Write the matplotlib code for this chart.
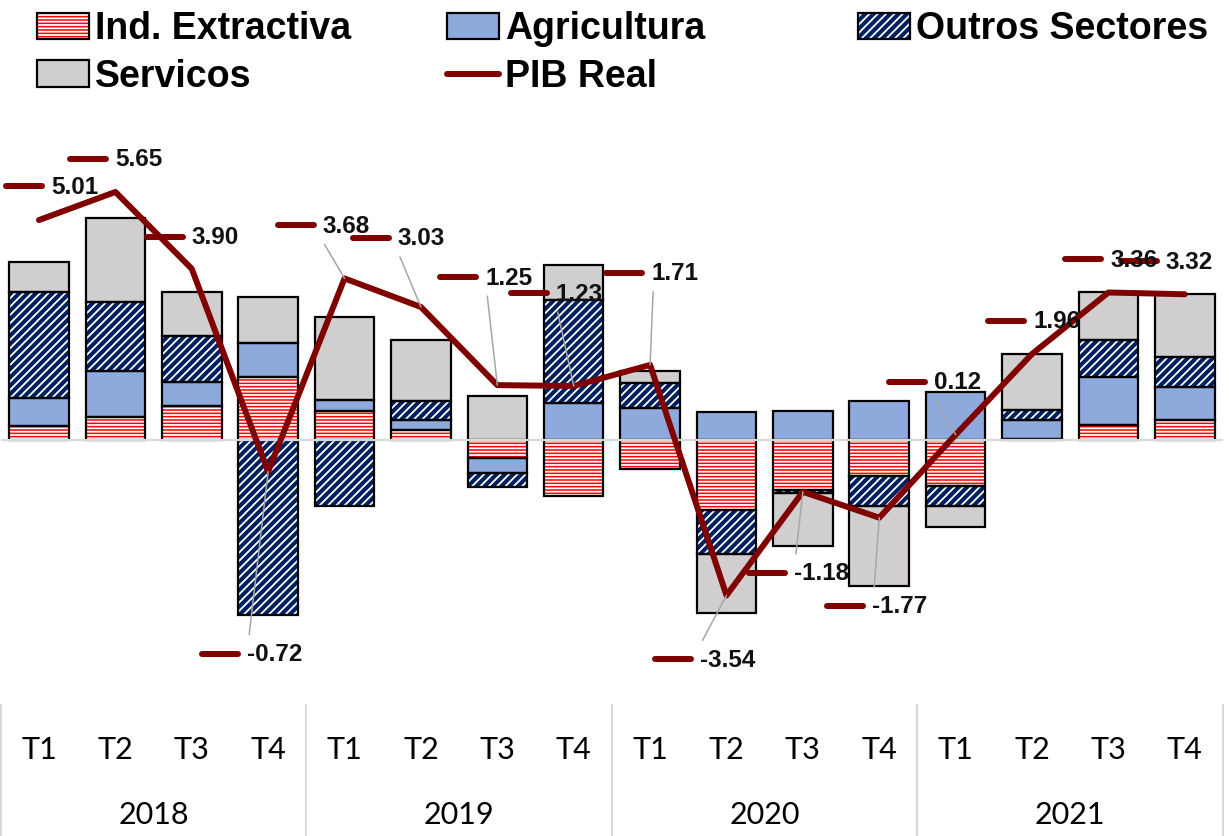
import matplotlib
matplotlib.use("Agg")
import numpy as np
import matplotlib.pyplot as plt
from matplotlib.patches import Patch
from matplotlib.lines import Line2D
from matplotlib.markers import MarkerStyle
from matplotlib.transforms import ScaledTranslation
from matplotlib.legend_handler import HandlerTuple

# ---- data ----
quarters = ["T1", "T2", "T3", "T4"] * 4
years = ["2018", "2019", "2020", "2021"]

ind_extractiva = [0.33, 0.52, 0.77, 1.44, 0.67, 0.23, -0.42, -1.27,
                  -0.67, -1.59, -1.13, -0.83, -1.05, 0.03, 0.34, 0.45]
agricultura = [0.62, 1.05, 0.55, 0.77, 0.23, 0.23, -0.34, 0.85,
               0.72, 0.63, 0.66, 0.89, 1.10, 0.42, 1.10, 0.76]
outros_sectores = [2.42, 1.58, 1.06, -3.98, -1.50, 0.43, -0.30, 2.33,
                   0.57, -1.00, -0.08, -0.67, -0.45, 0.23, 0.83, 0.67]
servicos = [0.68, 1.91, 1.00, 1.05, 1.91, 1.39, 1.01, 0.81,
            0.28, -1.35, -1.20, -1.83, -0.49, 1.29, 1.10, 1.44]
pib_real = [5.01, 5.65, 3.90, -0.72, 3.68, 3.03, 1.25, 1.23,
            1.71, -3.54, -1.18, -1.77, 0.12, 1.96, 3.36, 3.32]

# label placement (pixels, relative to the point) and leader lines
label_dx = [-34, -46, -46, -67, -68, -69, -58, -64, -45, -72, -55, -53, -68, -45, -44, -65]
label_dy = [34, 33, 32, -182, 53, 69, 108, 93, 92, -64, -81, -88, 53, 33, 33, 33]
has_leader = [False, False, False, True, True, True, True, True,
              True, True, True, True, True, False, False, False]

# ---- styles ----
RED = "#FF0000"
BLUE = "#8EA9DB"
NAVY = "#002060"
GREY = "#D0CECE"
PIB = "#800000"
LEADER = "#A6A6A6"
ZERO = "#D9D9D9"

plt.rcParams["hatch.linewidth"] = 1.3

W, H, DPI = 1229, 836, 100
fig = plt.figure(figsize=(W / DPI, H / DPI), dpi=DPI)

# plot area in pixels
ax_left, ax_right, ax_top, ax_bottom = 0.8, 1223.0, 110.0, 705.0
zero_px, px_per_unit = 440.0, 43.9
ax = fig.add_axes([ax_left / W, (H - ax_bottom) / H,
                   (ax_right - ax_left) / W, (ax_bottom - ax_top) / H])
ax.set_xlim(-0.5, len(quarters) - 0.5)
ax.set_ylim((zero_px - ax_bottom) / px_per_unit, (zero_px - ax_top) / px_per_unit)

x = np.arange(len(quarters))
series = [
    ("Ind. Extractiva", ind_extractiva, RED, "white", "-----"),
    ("Agricultura", agricultura, BLUE, None, None),
    ("Outros Sectores", outros_sectores, NAVY, "white", "////"),
    ("Servicos", servicos, GREY, None, None),
]

pos_base = np.zeros(len(x))
neg_base = np.zeros(len(x))
handles = {}
for name, vals, face, hcol, hatch in series:
    vals = np.array(vals)
    base = np.where(vals >= 0, pos_base, neg_base)
    # fill + hatch first (hatch colour comes from edgecolor), outline on top
    ax.bar(x, vals, 0.78, bottom=base, color=face, edgecolor=hcol if hcol else face,
           hatch=hatch, linewidth=0, zorder=2)
    ax.bar(x, vals, 0.78, bottom=base, fill=False, edgecolor="black",
           linewidth=1.6, zorder=2.5)
    pos_base += np.where(vals >= 0, vals, 0)
    neg_base += np.where(vals < 0, vals, 0)
    handles[name] = (Patch(facecolor=face, edgecolor=hcol if hcol else face, hatch=hatch, linewidth=0),
                     Patch(fill=False, edgecolor="black", linewidth=1.6))

ax.axhline(0, color=ZERO, linewidth=1.6, zorder=3)

ax.plot(x, pib_real, color=PIB, linewidth=4.3, solid_joinstyle="round",
        solid_capstyle="round", zorder=4)
handles["PIB Real"] = Line2D([], [], color=PIB, linewidth=4.3, solid_capstyle="round")

# data labels: legend-key dash + value, with grey leader lines
dash = MarkerStyle("_", capstyle="round")
for i, v in enumerate(pib_real):
    dx, dy = label_dx[i], label_dy[i]
    shift = ScaledTranslation((dx + 19) / DPI, dy / DPI, fig.dpi_scale_trans)
    ax.plot([i], [v], marker=dash, markersize=36 / 1.389, markeredgewidth=6 / 1.389,
            color=PIB, transform=ax.transData + shift, zorder=6, clip_on=False)
    ax.annotate(f"{v:.2f}", xy=(i, v), xytext=(dx + 46, dy - 1), textcoords="offset pixels",
                ha="left", va="center", fontsize=17.5, fontweight="bold",
                family="Liberation Sans", color="#111111", zorder=7, annotation_clip=False)
    if has_leader[i]:
        ly = dy - 19 if dy > 0 else dy + 19
        ax.annotate("", xy=(i, v), xytext=(dx + 48, ly), textcoords="offset pixels",
                    arrowprops=dict(arrowstyle="-", color=LEADER, lw=1.1,
                                    shrinkA=0, shrinkB=0), zorder=5)

# two-level category axis
for s in ax.spines.values():
    s.set_visible(False)
ax.set_xticks([])
ax.set_yticks([])
trans = ax.get_xaxis_transform()
span = ax_bottom - ax_top
for i, q in enumerate(quarters):
    ax.text(i, (ax_bottom - 750) / span, q, transform=trans, ha="center", va="center",
            fontsize=22, family="Lato")
for k, yr in enumerate(years):
    ax.text(4 * k + 1.5, (ax_bottom - 815) / span, yr, transform=trans, ha="center",
            va="center", fontsize=22, family="Lato")
for b in np.arange(-0.5, len(quarters), 4):
    ax.plot([b, b], [0, (ax_bottom - H) / span], transform=trans, color=ZERO,
            linewidth=1.5, clip_on=False)

# legend: three fixed-width columns like the original
columns = [(37, ["Ind. Extractiva", "Servicos"]),
           (447, ["Agricultura", "PIB Real"]),
           (858, ["Outros Sectores"])]
for left, names in columns:
    fig.legend([handles[n] for n in names], names, loc="upper left",
               bbox_to_anchor=(left / W, 1 - 11 / H), frameon=False,
               prop={"family": "Liberation Sans", "weight": "bold", "size": 27},
               handlelength=1.39, handleheight=0.7, handletextpad=0.16,
               borderpad=0, borderaxespad=0, labelspacing=0.31,
               handler_map={tuple: HandlerTuple(ndivide=1)})

fig.savefig("out.png", dpi=DPI)
